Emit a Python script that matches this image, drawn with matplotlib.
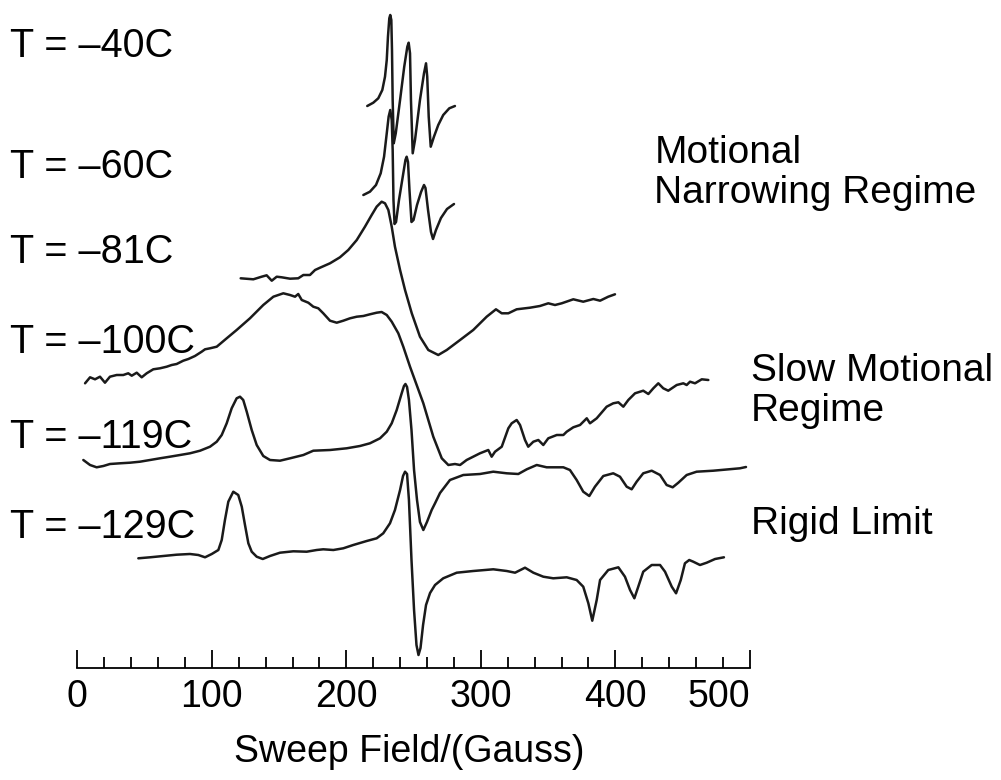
import matplotlib
matplotlib.use("Agg")
import matplotlib.pyplot as plt
from matplotlib.ticker import FixedLocator

plt.rcParams['font.family'] = ['Liberation Sans', 'DejaVu Sans']

# temperatures (C) and stacking baselines (arb. units)
temps = [-40, -60, -81, -100, -119, -129]
offsets = [674, 585, 502, 397, 320, 222]

field_40 = [215.5, 220.0, 223.7, 226.7, 228.7, 230.0, 230.9, 231.9, 232.6, 233.4, 233.9, 234.4,
            235.2, 236.7, 239.9, 243.0, 245.3, 246.3, 247.3, 248.0, 249.3, 251.0, 254.7, 257.7,
            259.2, 260.1, 261.2, 262.7, 265.1, 268.3, 272.0, 276.5, 280.7]
sig_40 = [0, 3.3, 7.7, 16, 29.3, 46, 69.3, 87.7, 91, 86, 56, 6,
          -37.3, -27.3, 6, 39.3, 59.3, 63.3, 52.7, 6, -47.3, -34, 6, 32.7,
          42.7, 29.3, -10.7, -40.7, -30.7, -19, -9, -2.3, 0]

field_60 = [212.6, 217.5, 222.0, 225.5, 228.0, 230.0, 231.4, 232.6, 233.7, 234.4, 235.0, 235.8,
            236.9, 239.1, 242.1, 243.9, 244.8, 245.8, 246.9, 248.4, 249.9, 252.5, 255.5, 257.7,
            258.8, 260.7, 262.9, 264.4, 266.6, 270.3, 274.8, 280.0]
sig_60 = [0, 3.3, 10, 21.7, 38.3, 61.7, 78.3, 85, 75, 45, -5, -29,
          -27, -5, 20, 35, 38.3, 33, 5, -27, -25, -10, 3, 10,
          7, -15, -37, -44, -35, -23, -14, -9]

field_81 = [121.4, 130.8, 137.0, 140.7, 144.5, 148.2, 151.9, 158.1, 164.2, 168.0, 172.9, 176.7,
            180.4, 187.8, 195.2, 201.4, 207.7, 213.8, 218.8, 222.5, 226.2, 228.7, 231.2, 233.7,
            236.1, 239.9, 243.6, 248.6, 254.7, 260.9, 268.3, 274.6, 284.5, 294.3, 304.3, 311.2,
            315.5, 320.4, 326.6, 336.5, 343.9, 350.1, 355.1, 360.1, 368.7, 376.1, 383.6, 388.6,
            394.7, 399.7]
sig_81 = [-0.3, -1.3, 1.3, 2.7, -2.7, 1.3, 0.7, -0.7, -0.3, 3, 3, 8,
          10.3, 14.7, 20.7, 28, 38, 51.3, 63, 71.3, 76.3, 74.7, 68, 51.3,
          31.3, 8, -12, -35.3, -58.7, -72, -77, -72, -62, -52, -38.7, -31.3,
          -35.3, -35.3, -31.3, -29.7, -28, -25.3, -27, -25.3, -21.3, -23.7, -21, -22.7,
          -18.7, -16.3]

field_100 = [5.7, 9.4, 13.1, 16.8, 20.5, 24.2, 29.2, 34.1, 37.8, 40.4, 44.1, 47.8,
             51.5, 56.4, 61.4, 66.4, 70.1, 73.8, 78.7, 82.5, 87.4, 92.4, 94.9, 98.6,
             103.6, 111.0, 118.4, 128.3, 138.2, 145.7, 153.1, 158.1, 161.8, 164.2, 166.8, 171.7,
             175.4, 179.1, 182.8, 187.8, 192.8, 197.7, 202.7, 207.7, 212.6, 217.5, 222.5, 226.2,
             230.0, 233.7, 238.6, 242.3, 247.3, 257.2, 264.6, 270.9, 275.8, 280.7, 284.5, 289.4,
             299.3, 305.5, 308.0, 310.5, 315.5, 320.4, 322.9, 326.6, 329.1, 332.8, 335.2, 339.0,
             342.7, 346.4, 350.1, 356.4, 361.3, 363.8, 368.7, 373.7, 378.7, 381.1, 386.1, 393.5,
             398.4, 402.2, 405.9, 409.6, 414.6, 420.7, 424.5, 428.2, 431.9, 435.6, 439.3, 445.6,
             450.5, 453.0, 455.5, 459.2, 464.2, 469.1]
sig_100 = [-0.3, 5.7, 3.7, 6.3, 0.3, 6.3, 8, 8, 9.7, 7.3, 10.3, 5.7,
           9.7, 13.7, 14.7, 16.3, 18, 19, 22.3, 24, 27, 31.3, 33.7, 34.7,
           36.3, 44.7, 53, 64.7, 78, 86.3, 89.7, 88, 86.3, 89, 83, 80.3,
           76.3, 74.7, 69.7, 62.3, 60.3, 62.3, 64.7, 66.3, 67, 68.7, 70.3, 71,
           68, 61.3, 49.7, 36.3, 16.3, -20.3, -53.7, -75.3, -82, -81, -82, -77,
           -70.3, -67, -73.7, -68.7, -63.7, -45.3, -40.3, -37, -42, -57, -63.7, -58.7,
           -57, -62, -55.3, -52, -52, -48.7, -44.3, -42, -35.3, -40.3, -35.3, -23.7,
           -20.3, -19.3, -23.7, -17, -10.3, -7.7, -11, -5.3, -0.3, -5.3, -7.7, -2,
           -0.3, -2, 1.3, -0.3, 3.7, 3]

field_119 = [4.4, 9.4, 14.3, 19.3, 24.2, 31.7, 39.1, 46.5, 54.0, 61.4, 68.8, 76.3,
             83.7, 91.2, 98.6, 103.6, 107.3, 111.0, 114.7, 118.4, 120.9, 123.3, 125.9, 129.6,
             133.3, 138.2, 143.2, 150.6, 158.1, 168.0, 175.4, 187.8, 200.2, 210.1, 217.5, 225.0,
             230.0, 233.7, 237.4, 241.1, 242.8, 243.9, 245.1, 246.5, 248.4, 250.3, 252.5, 254.7,
             257.2, 259.9, 263.4, 265.9, 269.6, 277.0, 286.9, 299.3, 309.2, 319.2, 327.8, 334.1,
             341.5, 348.9, 361.3, 366.2, 371.2, 376.1, 380.6, 384.8, 391.0, 398.4, 403.4, 408.4,
             412.1, 415.8, 420.7, 427.0, 433.2, 438.1, 442.6, 446.8, 453.0, 460.4, 472.8, 492.6,
             497.1]
sig_119 = [0, -5, -7.3, -6, -4, -3.3, -2.7, -1.7, 0, 1.7, 3.3, 5,
           6.7, 9.3, 13.3, 18.3, 25, 36.7, 51.7, 61.7, 63.3, 60, 48.3, 30,
           15, 4, 0, -0.7, 1.7, 5, 9.3, 10, 11.7, 14, 16.7, 21.7,
           28.3, 36.7, 50, 66.7, 74, 76, 73, 60, 30, -10, -40, -62,
           -70, -62, -50, -43.3, -33, -20, -15, -14, -11.7, -13.3, -14, -9.3,
           -5, -7.3, -7.3, -10, -20, -31.7, -36, -26.7, -16, -13.3, -16.7, -26.7,
           -29.3, -21.7, -13.3, -10.7, -15, -25, -27.3, -22.7, -15, -11.7, -10.7, -8.3,
           -7]

field_129 = [45.3, 54.0, 63.9, 73.8, 83.7, 89.9, 94.9, 99.9, 104.8, 107.3, 109.7, 112.2,
             115.9, 119.6, 122.2, 124.6, 127.1, 129.6, 133.3, 137.8, 143.2, 150.6, 160.5, 170.5,
             177.9, 182.8, 190.3, 197.7, 205.1, 215.1, 222.5, 227.4, 232.4, 236.1, 239.9, 242.1,
             243.6, 245.1, 246.5, 248.4, 250.3, 252.1, 253.6, 255.1, 257.0, 259.2, 262.2, 265.9,
             272.0, 282.0, 294.3, 309.2, 319.2, 325.4, 332.8, 339.0, 346.4, 353.8, 363.8, 371.2,
             376.1, 379.9, 382.8, 386.1, 388.6, 394.7, 402.2, 407.1, 410.9, 414.1, 417.0, 420.7,
             427.0, 433.2, 436.9, 441.9, 445.1, 448.6, 451.7, 454.9, 457.9, 462.9, 467.9, 474.1,
             480.7]
sig_129 = [-0.3, 0.7, 2, 3.3, 4, 3, 0.7, 4, 8, 18, 38, 56.3,
           66.3, 63, 51.3, 33, 14.7, 6.3, 1.3, -1, 2, 5.3, 6.7, 6.3,
           8, 8.7, 8, 9.7, 13, 17, 19.7, 24.7, 34.7, 48, 68, 82,
           86.3, 84, 58, -2, -52, -87, -97, -90, -67, -47, -35, -27,
           -20.3, -14.7, -13, -11.3, -13, -14.7, -9.7, -14.7, -18.7, -20.3, -19.3, -22,
           -28.7, -45.3, -62.7, -42, -22, -12, -9.3, -18.7, -32, -40.3, -28.7, -13.7,
           -7, -7, -13.7, -28.7, -35.3, -22, -5.3, -2, -3.7, -7, -4.7, -1,
           0.7]

fields = [field_40, field_60, field_81, field_100, field_119, field_129]
signals = [sig_40, sig_60, sig_81, sig_100, sig_119, sig_129]

fig = plt.figure(figsize=(10.01, 7.80), dpi=100)
ax = fig.add_axes([0, 0, 1, 1])
ax.set_xlim(-57.55, 686.7)
ax.set_ylim(0, 780)

for f, s, off in zip(fields, signals, offsets):
    ax.plot(f, [v + off for v in s], color='#1a1a1a', lw=1.8,
            solid_joinstyle='round', solid_capstyle='round')

# temperature labels on the left
label_y = [734, 613, 528, 438, 343, 253]
for t, y in zip(temps, label_y):
    ax.text(-50, y, 'T = \u2013%dC' % abs(t), fontsize=28.5, va='center', ha='left')

# regime annotations
ax.text(429, 607, 'Motional\nNarrowing Regime', fontsize=28, va='center', ha='left',
        linespacing=1.12)
ax.text(501, 389, 'Slow Motional\nRegime', fontsize=28, va='center', ha='left',
        linespacing=1.12)
ax.text(501, 256, 'Rigid Limit', fontsize=28, va='center', ha='left')

# bottom axis only
for side in ['left', 'right', 'top']:
    ax.spines[side].set_visible(False)
ax.spines['bottom'].set_position(('data', 112))
ax.spines['bottom'].set_bounds(0, 500)
ax.spines['bottom'].set_linewidth(1.3)
ax.set_yticks([])
ax.xaxis.set_major_locator(FixedLocator([0, 100, 200, 300, 400, 500]))
ax.xaxis.set_minor_locator(FixedLocator(list(range(0, 501, 20))))
ax.tick_params(axis='x', which='major', direction='in', length=13, width=1.3,
               labelsize=27, pad=8)
ax.tick_params(axis='x', which='minor', direction='in', length=8, width=1.3)
ax.get_xticklabels()[-1].set_horizontalalignment('right')
ax.text(247, 28, 'Sweep Field/(Gauss)', fontsize=27, ha='center', va='center')

fig.savefig('out.png', dpi=100)
